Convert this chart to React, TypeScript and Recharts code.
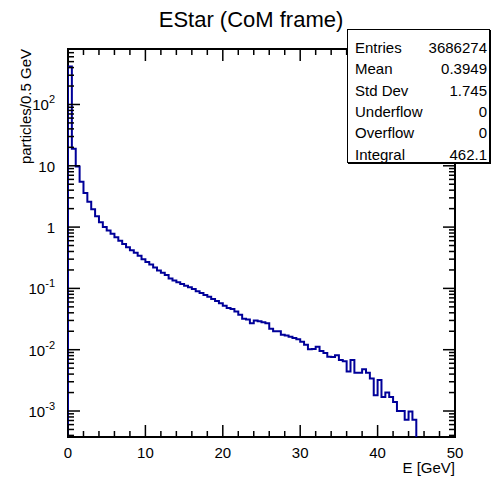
import { LineChart, Line, XAxis, YAxis, ReferenceArea } from "recharts";

// histogram contents, 0.5 GeV bins from 0 to 45 GeV
const BIN_WIDTH = 0.5;
const counts = [
  415, 18.9, 9.7, 5.5, 3.6, 2.6, 1.95, 1.5, 1.2, 1.0,
  0.88, 0.78, 0.68, 0.6, 0.53, 0.47, 0.42, 0.38, 0.34, 0.3,
  0.27, 0.245, 0.22, 0.195, 0.18, 0.165, 0.145, 0.135, 0.126, 0.118,
  0.11, 0.104, 0.098, 0.09, 0.084, 0.078, 0.073, 0.067, 0.062, 0.057,
  0.052, 0.048, 0.046, 0.042, 0.037, 0.032, 0.031, 0.027, 0.03, 0.029,
  0.028, 0.027, 0.022, 0.02, 0.02, 0.0175, 0.017, 0.0162, 0.0155, 0.0148,
  0.0135, 0.012, 0.0102, 0.0103, 0.0112, 0.0095, 0.0088, 0.0077, 0.0076, 0.0081,
  0.0068, 0.0065, 0.0044, 0.0068, 0.0042, 0.0042, 0.0048, 0.0042, 0.0034, 0.0018,
  0.0032, 0.0017, 0.002, 0.0017, 0.0014, 0.001, 0.001, 0.00072, 0.00098, 0.00072,
];

const xTicks = [0, 2, 4, 6, 8, 10, 12, 14, 16, 18, 20, 22, 24, 26, 28, 30, 32, 34, 36, 38, 40, 42, 44, 46, 48, 50];
const xMajor = [0, 10, 20, 30, 40, 50];

const yMajor = [1e-3, 1e-2, 1e-1, 1, 10, 100];
const yLabelBase = ["10", "10", "10", "1", "10", "10"];
const yLabelExp = ["-3", "-2", "-1", "", "", "2"];

const statLabels = ["Entries", "Mean", "Std Dev", "Underflow", "Overflow", "Integral"];
const statValues = ["3686274", "0.3949", "1.745", "0", "0", "462.1"];

const W = 496;
const H = 479;
const LEFT = 68;
const RIGHT = 455;
const TOP = 49;
const BOTTOM = 437;
const Y_MIN = Math.pow(10, -3.424);
const Y_MAX = Math.pow(10, 2.905);
const FLOOR = 1e-5;
const FONT = "'Liberation Sans', Arial, Helvetica, sans-serif";
const HIST_COLOR = "#000099";

const yMinor: number[] = [];
for (let d = -4; d <= 2; d++) {
  for (let m = 2; m <= 9; m++) {
    const v = m * Math.pow(10, d);
    if (v > Y_MIN && v < Y_MAX) yMinor.push(v);
  }
}
const yTicks = [...yMajor, ...yMinor].sort((a, b) => a - b);

const histData = [
  { e: 0, v: FLOOR },
  ...counts.map((c, i) => ({ e: i * BIN_WIDTH, v: c })),
  { e: counts.length * BIN_WIDTH, v: FLOOR },
];

function XTick(props: any) {
  const { x, payload } = props;
  const val = payload.value;
  const major = xMajor.includes(val);
  const len = major ? 12 : 6;
  return (
    <g>
      <line x1={x} x2={x} y1={BOTTOM} y2={BOTTOM - len} stroke="#000" strokeWidth={1.5} />
      <line x1={x} x2={x} y1={TOP} y2={TOP + len} stroke="#000" strokeWidth={1.5} />
      {major && (
        <text x={x} y={BOTTOM + 21} textAnchor="middle" fontSize={15} fontFamily={FONT} fill="#000">
          {val}
        </text>
      )}
    </g>
  );
}

function YTick(props: any) {
  const { y, payload } = props;
  const val = payload.value;
  const idx = yMajor.findIndex((m) => Math.abs(m - val) / m < 1e-6);
  const major = idx >= 0;
  const len = major ? 12 : 6;
  return (
    <g>
      <line x1={LEFT} x2={LEFT + len} y1={y} y2={y} stroke="#000" strokeWidth={1.5} />
      <line x1={RIGHT} x2={RIGHT - len} y1={y} y2={y} stroke="#000" strokeWidth={1.5} />
      {major && (
        <text x={LEFT - 13} y={y + 6} textAnchor="end" fontSize={15} fontFamily={FONT} fill="#000">
          <tspan>{yLabelBase[idx]}</tspan>
          {yLabelExp[idx] && (
            <tspan dy={-7} fontSize={11}>
              {yLabelExp[idx]}
            </tspan>
          )}
        </text>
      )}
    </g>
  );
}

export default function App() {
  return (
    <div style={{ position: "absolute", left: 0, top: 0, width: W, height: H, background: "#fff" }}>
      <LineChart
        width={W}
        height={H}
        data={histData}
        margin={{ top: TOP, right: W - RIGHT, bottom: H - BOTTOM - 1, left: LEFT - 1 }}
      >
        <XAxis
          dataKey="e"
          type="number"
          domain={[0, 50]}
          allowDataOverflow
          ticks={xTicks}
          interval={0}
          height={1}
          tickSize={0}
          tickMargin={0}
          axisLine={false}
          tickLine={false}
          tick={<XTick />}
        />
        <YAxis
          type="number"
          scale="log"
          domain={[Y_MIN, Y_MAX]}
          allowDataOverflow
          ticks={yTicks}
          interval={0}
          width={1}
          tickSize={0}
          tickMargin={0}
          axisLine={false}
          tickLine={false}
          tick={<YTick />}
        />
        <ReferenceArea
          x1={0}
          x2={50}
          y1={Y_MIN}
          y2={Y_MAX}
          fill="none"
          stroke="#000"
          strokeWidth={2}
          ifOverflow="visible"
        />
        <Line
          dataKey="v"
          type="stepAfter"
          stroke={HIST_COLOR}
          strokeWidth={2}
          dot={false}
          isAnimationActive={false}
        />
      </LineChart>

      <svg
        width={W}
        height={H}
        style={{ position: "absolute", left: 0, top: 0, pointerEvents: "none" }}
      >
        <text x={251} y={27} textAnchor="middle" fontSize={22} fontFamily={FONT} fill="#000">
          EStar (CoM frame)
        </text>
        <text x={RIGHT} y={478 - 5} textAnchor="end" fontSize={15} fontFamily={FONT} fill="#000">
          E [GeV]
        </text>
        <text
          x={31}
          y={TOP}
          transform={`rotate(-90 31 ${TOP})`}
          textAnchor="end"
          fontSize={15}
          fontFamily={FONT}
          fill="#000"
        >
          particles/0.5 GeV
        </text>
      </svg>

      <div
        style={{
          position: "absolute",
          left: 347,
          top: 29,
          width: 141,
          height: 132,
          border: "1px solid #000",
          background: "#fff",
          fontFamily: FONT,
          fontSize: 15,
          color: "#000",
          boxShadow: "1px 1px 0 #000",
        }}
      >
        {statLabels.map((label, i) => (
          <div
            key={label}
            style={{
              position: "absolute",
              left: 7,
              right: 2,
              top: 8 + i * 21.3,
              height: 20,
              lineHeight: "20px",
              display: "flex",
              justifyContent: "space-between",
            }}
          >
            <span>{label}</span>
            <span>{statValues[i]}</span>
          </div>
        ))}
      </div>
    </div>
  );
}
